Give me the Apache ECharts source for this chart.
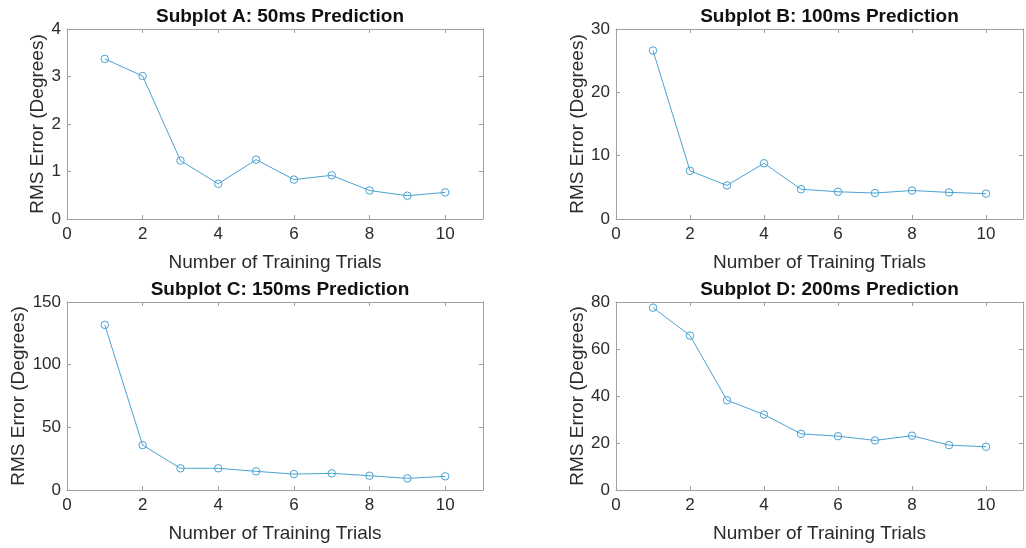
<!DOCTYPE html>
<html>
<head>
<meta charset="utf-8">
<script src="https://cdn.jsdelivr.net/npm/echarts@6/dist/echarts.min.js"></script>
<style>
  html, body { margin: 0; padding: 0; background: #fff; }
  #chart { width: 1026px; height: 548px; }
</style>
</head>
<body>
<div id="chart"></div>
<script>
// training trials 1..10
var trials = [1, 2, 3, 4, 5, 6, 7, 8, 9, 10];

// RMS error per subplot (degrees)
var rmsA = [3.37, 3.01, 1.23, 0.74, 1.25, 0.83, 0.92, 0.60, 0.49, 0.56];
var rmsB = [26.6, 7.6, 5.3, 8.8, 4.7, 4.3, 4.1, 4.5, 4.2, 4.0];
var rmsC = [131.7, 35.8, 17.3, 17.3, 14.9, 12.7, 13.3, 11.4, 9.3, 10.9];
var rmsD = [77.6, 65.7, 38.2, 32.1, 23.9, 22.9, 21.1, 23.1, 19.1, 18.4];

var titles = ['Subplot A: 50ms Prediction', 'Subplot B: 100ms Prediction',
              'Subplot C: 150ms Prediction', 'Subplot D: 200ms Prediction'];
var yMax = [4, 30, 150, 80];
var yStep = [1, 10, 50, 20];
var allData = [rmsA, rmsB, rmsC, rmsD];

var font = 'Liberation Sans, Arial, Helvetica, sans-serif';
var lineColor = '#4ba3d3';
var boxColor = '#a0a0a0';
var textColor = '#2b2b2b';

var grids = [
    { left: 67, width: 416, top: 29, height: 190 },
    { left: 616, width: 417, top: 29, height: 190 },
    { left: 67, width: 416, top: 302, height: 188 },
    { left: 616, width: 417, top: 302, height: 188 }
];
// y label gap differs with tick label width
var yNameGap = [20, 29, 38, 29];

var option = {
    backgroundColor: '#fff',
    animation: false,
    title: [],
    grid: grids,
    xAxis: [],
    yAxis: [],
    series: []
};

for (var i = 0; i < 4; i++) {
    var g = grids[i];
    option.title.push({
        text: titles[i],
        left: g.left + g.width / 2,
        top: g.top - 27,
        textAlign: 'center',
        textStyle: { fontFamily: font, fontSize: 19, fontWeight: 'bold', color: '#111' }
    });
    // bottom x axis
    option.xAxis.push({
        type: 'value', gridIndex: i, min: 0, max: 11, interval: 2,
        name: 'Number of Training Trials', nameLocation: 'middle', nameGap: 34,
        nameTextStyle: { fontFamily: font, fontSize: 19, color: textColor },
        axisLine: { show: true, onZero: false, lineStyle: { color: boxColor, width: 1 } },
        axisTick: { inside: true, length: 4, lineStyle: { color: boxColor } },
        axisLabel: {
            fontFamily: font, fontSize: 17, color: textColor, margin: 7,
            formatter: function (v) { return v > 10 ? '' : v; }
        },
        splitLine: { show: false }
    });
    // top box edge
    option.xAxis.push({
        type: 'value', gridIndex: i, min: 0, max: 11, interval: 2, position: 'top',
        axisLine: { show: true, onZero: false, lineStyle: { color: boxColor, width: 1 } },
        axisTick: { inside: true, length: 4, lineStyle: { color: boxColor } },
        axisLabel: { show: false },
        splitLine: { show: false }
    });
    // left y axis
    option.yAxis.push({
        type: 'value', gridIndex: i, min: 0, max: yMax[i], interval: yStep[i],
        name: 'RMS Error (Degrees)', nameLocation: 'middle', nameGap: yNameGap[i],
        nameTextStyle: { fontFamily: font, fontSize: 19, color: textColor },
        axisLine: { show: true, onZero: false, lineStyle: { color: boxColor, width: 1 } },
        axisTick: { show: true, inside: true, length: 4, lineStyle: { color: boxColor } },
        axisLabel: { fontFamily: font, fontSize: 17, color: textColor, margin: 6 },
        splitLine: { show: false }
    });
    // right box edge
    option.yAxis.push({
        type: 'value', gridIndex: i, min: 0, max: yMax[i], interval: yStep[i], position: 'right',
        axisLine: { show: true, onZero: false, lineStyle: { color: boxColor, width: 1 } },
        axisTick: { show: true, inside: true, length: 4, lineStyle: { color: boxColor } },
        axisLabel: { show: false },
        splitLine: { show: false }
    });

    var pts = [];
    for (var k = 0; k < trials.length; k++) {
        pts.push([trials[k], allData[i][k]]);
    }
    option.series.push({
        type: 'line',
        xAxisIndex: i * 2,
        yAxisIndex: i * 2,
        data: pts,
        symbol: 'circle',
        symbolSize: 7.5,
        lineStyle: { color: lineColor, width: 1 },
        itemStyle: { color: 'rgba(255,255,255,0)', borderColor: lineColor, borderWidth: 1 }
    });
}

var myChart = echarts.init(document.getElementById('chart'));
myChart.setOption(option);
</script>
</body>
</html>
